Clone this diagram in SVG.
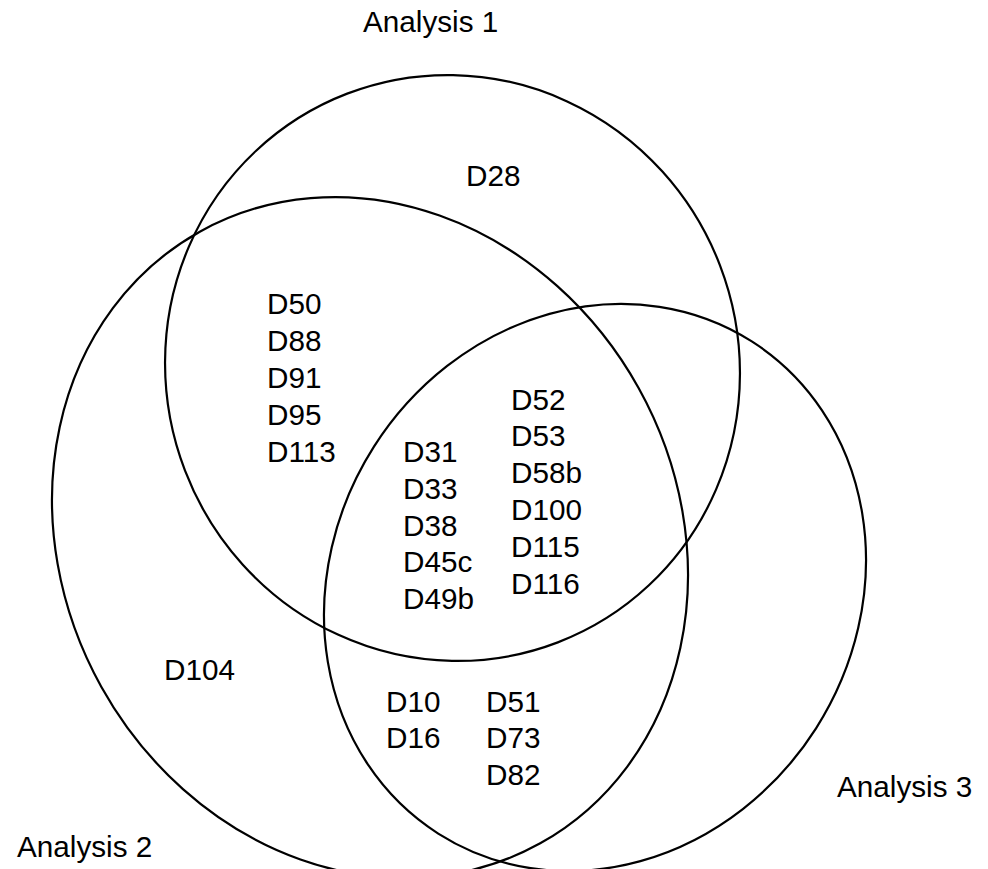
<svg xmlns="http://www.w3.org/2000/svg" width="988" height="869" viewBox="0 0 988 869">
<style>
.c{fill:none;stroke:#000;stroke-width:2.2}
text{font-family:"Liberation Sans",Arial,sans-serif;font-size:29.7px;fill:#000}
</style>
<rect width="988" height="869" fill="#fff"/>
<g id="sets">
<g id="analysis1"><ellipse class="c" cx="452.5" cy="368" rx="293.9" ry="286.5" transform="rotate(69 452.5 368)"/><text x="363" y="32">Analysis 1</text></g>
<g id="analysis2"><ellipse class="c" cx="370" cy="537.5" rx="350" ry="307.4" transform="rotate(60.9 370 537.5)"/><text x="17" y="857">Analysis 2</text></g>
<g id="analysis3"><ellipse class="c" cx="595" cy="587.5" rx="291.8" ry="262.1" transform="rotate(-57.5 595 587.5)"/><text x="837" y="797">Analysis 3</text></g>
</g>
<g id="only1"><text x="466" y="186">D28</text></g>
<g id="only2"><text x="164" y="680">D104</text></g>
<g id="r12"><text x="267" y="314">D50</text><text x="267" y="351">D88</text><text x="267" y="388">D91</text><text x="267" y="425">D95</text><text x="267" y="462">D113</text></g>
<g id="r123a"><text x="403" y="462">D31</text><text x="403" y="498.5">D33</text><text x="403" y="535.5">D38</text><text x="403" y="572">D45c</text><text x="403" y="608.5">D49b</text></g>
<g id="r123b"><text x="511" y="409.5">D52</text><text x="511" y="446">D53</text><text x="511" y="483">D58b</text><text x="511" y="520">D100</text><text x="511" y="557">D115</text><text x="511" y="593.5">D116</text></g>
<g id="r23"><text x="386" y="711.5">D10</text><text x="386" y="748">D16</text><text x="486" y="711.5">D51</text><text x="486" y="748">D73</text><text x="486" y="785">D82</text></g>
<g id="connectors"/>
</svg>
